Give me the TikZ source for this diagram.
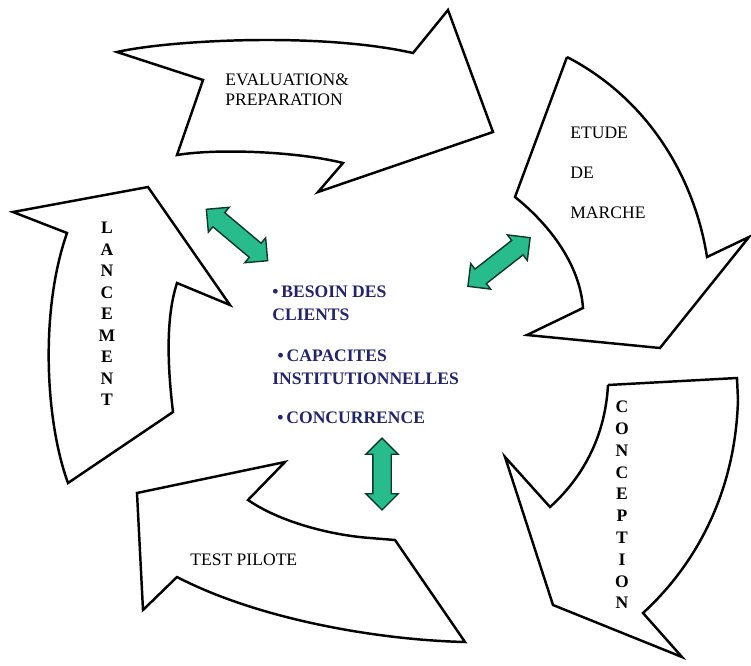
\documentclass[tikz,border=0pt]{standalone}
\usepackage{fontspec}
\setmainfont{Liberation Serif}
\usetikzlibrary{shapes.arrows}

\definecolor{arrowgreen}{RGB}{40,188,140}
\definecolor{textnavy}{RGB}{35,35,110}

\begin{document}
\begin{tikzpicture}[x=0.02cm, y=-0.02cm,
        bigarrow/.style={draw=black, fill=white, line width=1.4pt, line join=miter},
        greenarrow/.style={double arrow, draw=black!70!arrowgreen, fill=arrowgreen, line width=0.8pt,
                           inner sep=0.17cm, double arrow head extend=0.14cm},
        lbl/.style={font=\fontsize{10}{11.3}\selectfont, text=black, inner sep=0pt, align=left},
        vletter/.style={font=\fontsize{10}{12}\selectfont\bfseries, text=black, inner sep=0pt},
        navytext/.style={font=\fontsize{10}{13}\selectfont\bfseries, text=textnavy, inner sep=0pt, align=left}]
        % Background:
        \path[use as bounding box, fill=white] (0, 0) rectangle (751, 666);

        % Evaluation arrow (top):
        \draw[bigarrow] (117, 52) .. controls (170, 40) and (320, 32) .. (413, 53)
                        -- (448, 10) -- (493, 132) -- (318, 192) -- (343, 163)
                        .. controls (300, 152) and (220, 148) .. (177, 155)
                        -- (203, 80) -- cycle;

        % Etude de marche arrow (right):
        \draw[bigarrow] (567, 57) -- (515, 197)
                        .. controls (550, 225) and (580, 265) .. (583, 308)
                        -- (527, 335) -- (660, 348) -- (749, 237) -- (707, 257)
                        .. controls (695, 180) and (650, 100) .. (567, 57);

        % Conception arrow (bottom right):
        \draw[bigarrow] (608, 385) -- (737, 378) -- (738, 400)
                        .. controls (735, 500) and (690, 570) .. (643, 613)
                        -- (682, 657) -- (553, 605) -- (505, 457) -- (550, 507)
                        .. controls (580, 480) and (605, 440) .. (608, 385);

        % Test pilote arrow (bottom):
        \draw[bigarrow] (285, 462) -- (137, 493) -- (143, 610) -- (177, 577)
                        .. controls (260, 620) and (380, 640) .. (465, 642)
                        -- (395, 540) -- (370, 538)
                        .. controls (330, 535) and (280, 522) .. (248, 500)
                        -- cycle;

        % Lancement arrow (left):
        \draw[bigarrow] (13, 212) -- (148, 187) -- (230, 305) -- (177, 283)
                        .. controls (165, 320) and (168, 370) .. (173, 412)
                        -- (68, 483)
                        .. controls (45, 420) and (40, 310) .. (67, 233)
                        -- cycle;

        % Labels:
        \node[lbl, anchor=west] (evaluation) at (225, 90) {EVALUATION\&\\PREPARATION};
        \node[lbl, anchor=west, font=\fontsize{10}{22.7}\selectfont] (etude) at (570, 173) {ETUDE\\DE\\MARCHE};
        \node[lbl, anchor=west] (test) at (190, 560) {TEST PILOTE};
        \foreach \ch [count=\i] in {L,A,N,C,E,M,E,N,T}
            \node[vletter] (lancement-\i) at (107, {228 + (\i - 1) * 21.5}) {\ch};
        \foreach \ch [count=\i] in {C,O,N,C,E,P,T,I,O,N}
            \node[vletter] (conception-\i) at (622, {407 + (\i - 1) * 21.8}) {\ch};

        % Center:
        \node[navytext, anchor=west] (besoin) at (272, 303) {•\,BESOIN DES\\CLIENTS};
        \node[navytext, anchor=west] (capacites) at (272, 367) {\hspace{3pt}•\,CAPACITES\\INSTITUTIONNELLES};
        \node[navytext, anchor=west] (concurrence) at (277, 418) {•\,CONCURRENCE};

        % Double arrows:
        \node[greenarrow, minimum height=1.6cm, rotate=-40] (arrow-nw) at (237, 235) {};
        \node[greenarrow, minimum height=1.58cm, rotate=38] (arrow-ne) at (499, 262) {};
        \node[greenarrow, minimum height=1.44cm, rotate=90] (arrow-s) at (382, 474) {};
    \end{tikzpicture}
\end{document}
